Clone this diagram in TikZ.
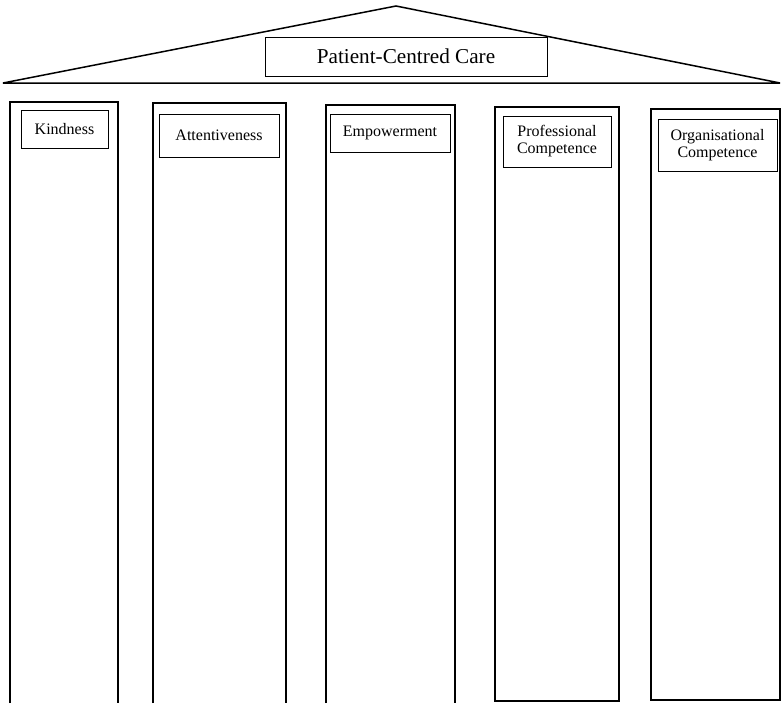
\documentclass[tikz,border=0pt]{standalone}
\usepackage{fontspec}
\setmainfont{Liberation Serif}
\usepackage{tikz}

\begin{document}
\begin{tikzpicture}[
  x=0.5pt, y=-0.5pt,
  roof/.style={
    line width=0.75pt,
    line join=miter
  },
  pillar/.style={
    line width=0.9pt
  },
  titlebox/.style={
    draw,
    line width=0.5pt,
    inner sep=0pt,
    font=\fontsize{10.6}{12}\selectfont
  },
  labelbox/.style={
    draw,
    line width=0.45pt,
    inner sep=0pt,
    align=center,
    font=\fontsize{8}{8.5}\selectfont
  }
]
  \useasboundingbox (0,0) rectangle (781,703);

  % Toit
  \draw[roof] (3,83) -- (396,6) -- (780,83) -- cycle;
  \node[titlebox, minimum width=141pt, minimum height=19.5pt] (care) at (406,56.5) {Patient-Centred Care};

  % Piliers ouverts en bas
  \foreach \l/\r/\t in {10/118/102, 153/286/103, 326/455/105} {
    \draw[pillar] (\l,703) |- (\r,\t) -- (\r,703);
  }
  % Piliers fermés
  \draw[pillar] (495,107) rectangle (619,701);
  \draw[pillar] (651,109) rectangle (780,700);

  % Étiquettes
  \node[labelbox, minimum width=43.5pt, minimum height=19pt] (kind) at (64.5,129) {Kindness};
  \node[labelbox, minimum width=60pt, minimum height=21.5pt] (attent) at (219,135.5) {Attentiveness};
  \node[labelbox, minimum width=60pt, minimum height=19pt] (empower) at (390,133) {Empowerment};
  \node[labelbox, minimum width=54pt, minimum height=25.5pt] (profcomp) at (557,141.5) {Professional\\Competence};
  \node[labelbox, minimum width=59.5pt, minimum height=26pt] (orgcomp) at (717.5,145) {Organisational\\Competence};
\end{tikzpicture}
\end{document}
